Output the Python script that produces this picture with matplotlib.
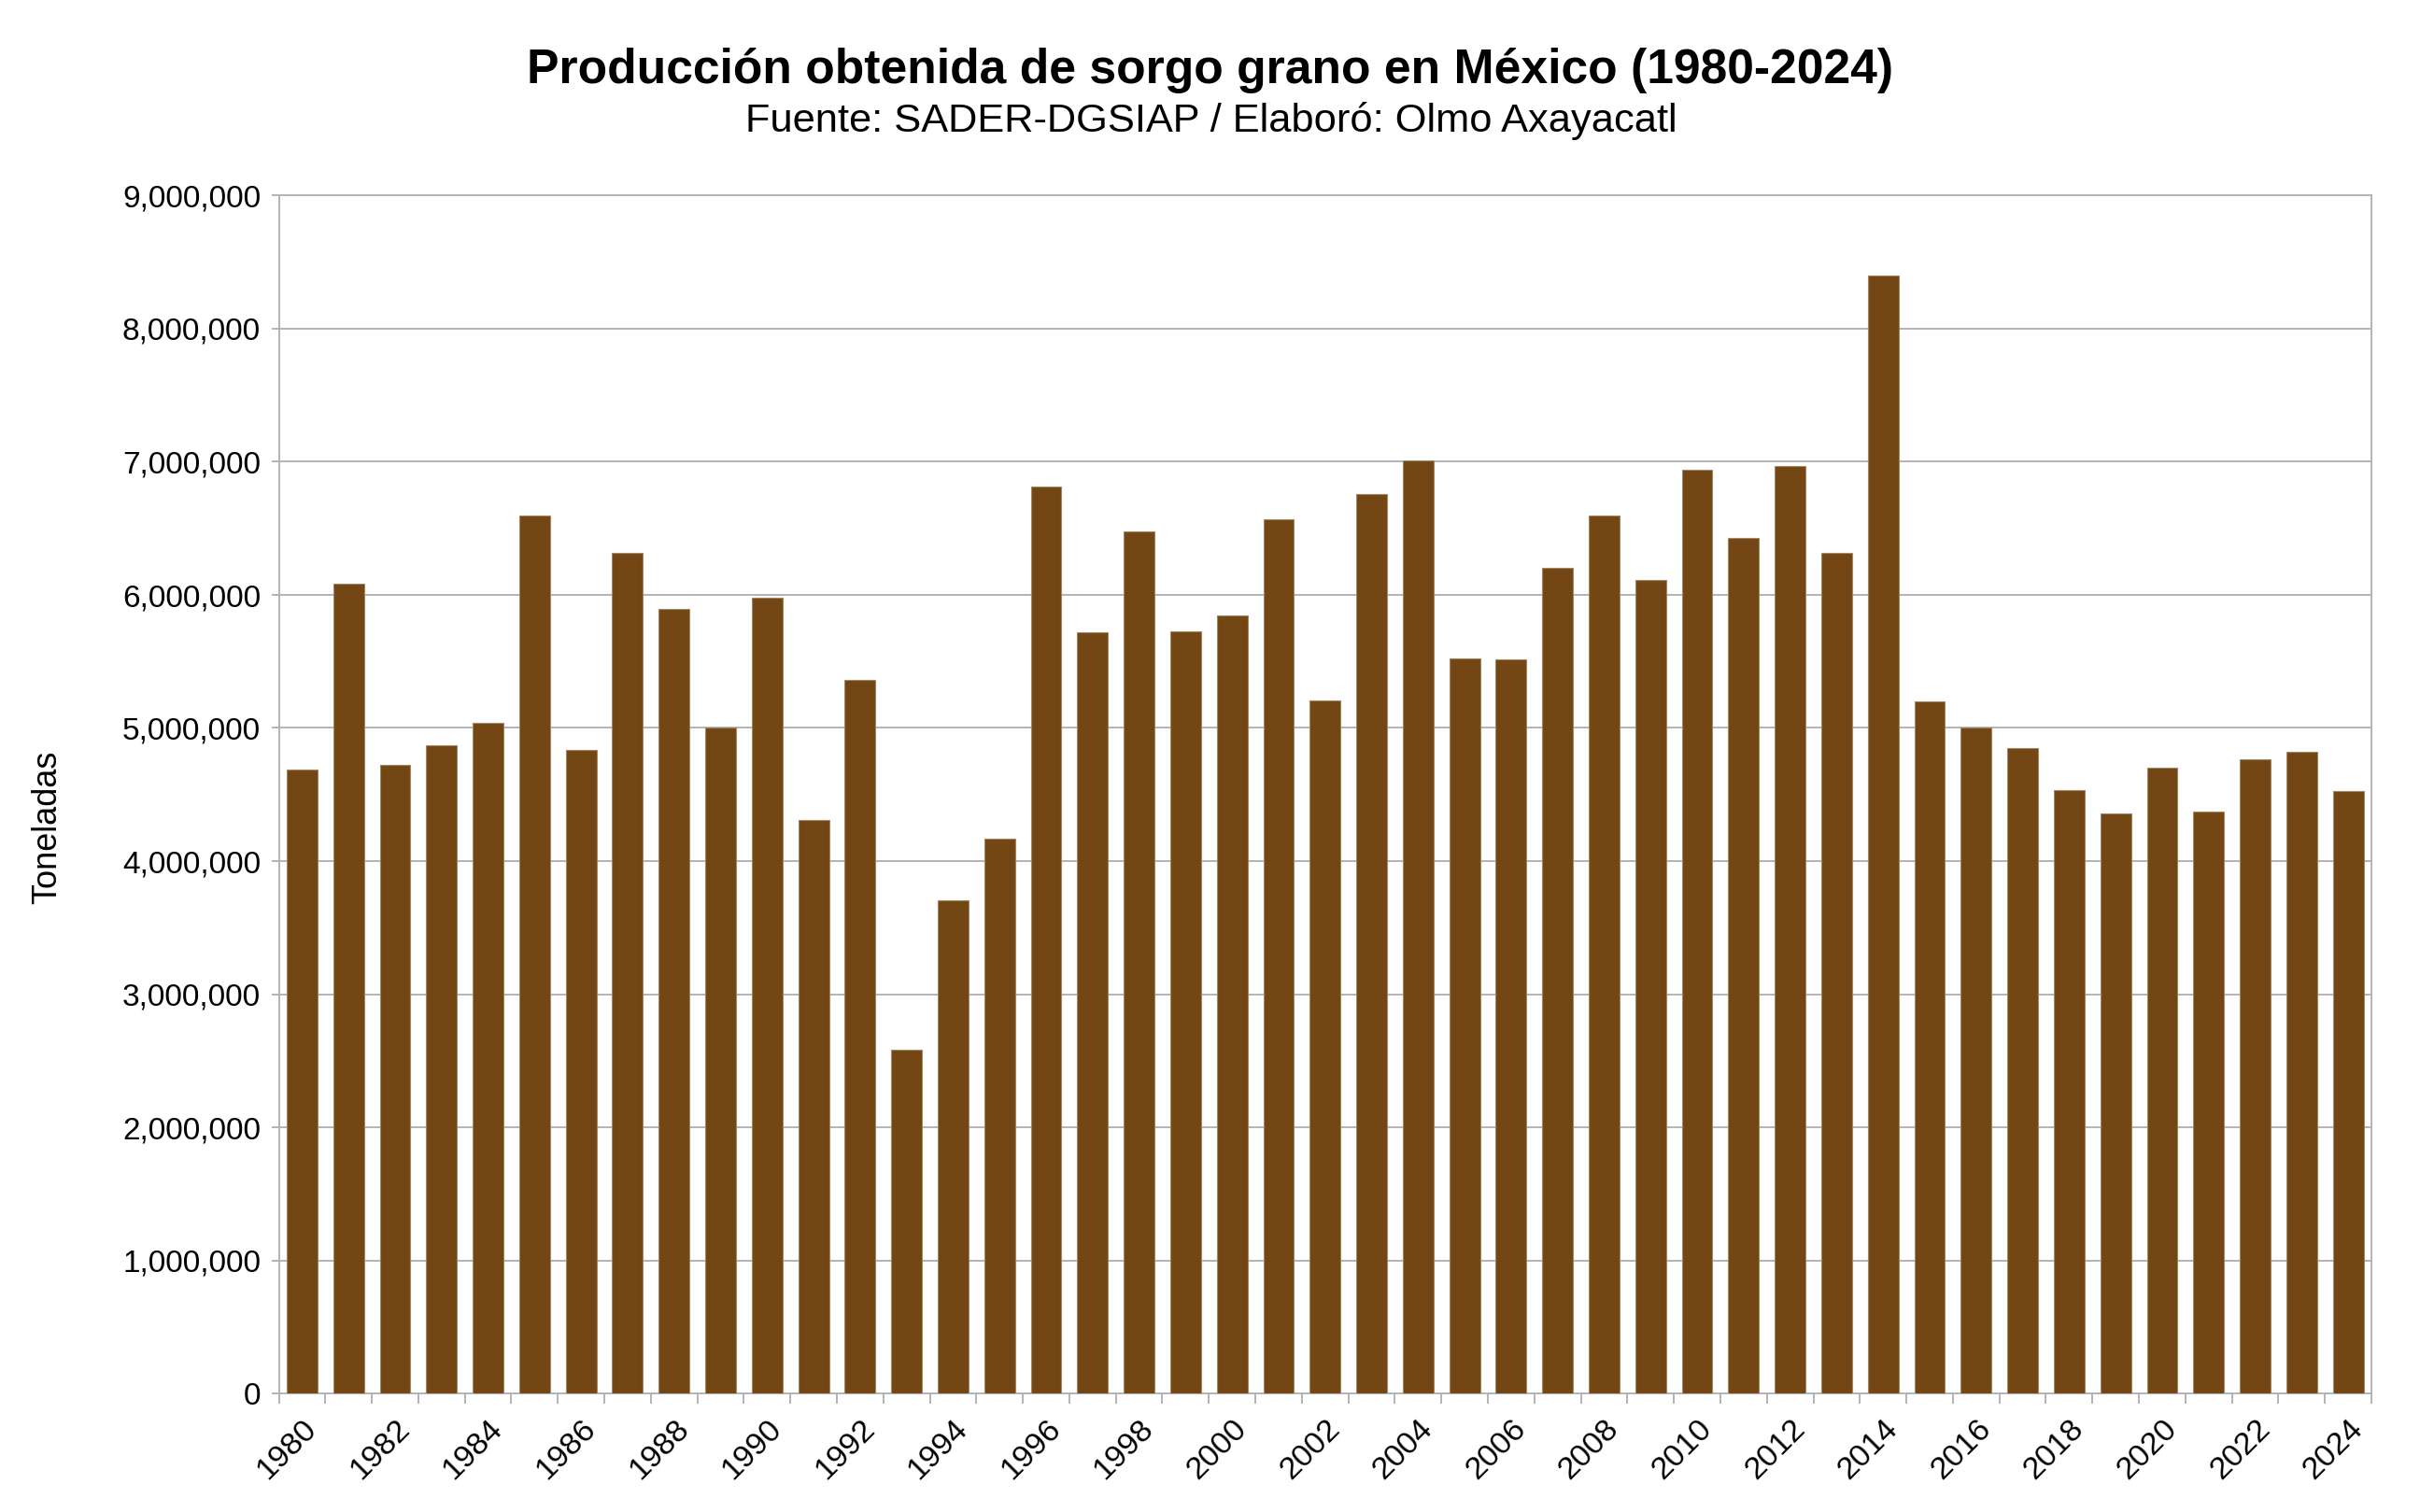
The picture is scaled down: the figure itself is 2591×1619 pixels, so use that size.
import matplotlib
matplotlib.use("Agg")
import matplotlib.pyplot as plt
from matplotlib.ticker import FuncFormatter, FixedLocator
import numpy as np

plt.rcParams['font.family'] = ['Liberation Sans', 'DejaVu Sans']

years = list(range(1980, 2025))
production = [
    4689000, 6087000, 4721000, 4870000, 5039000, 6599000, 4834000, 6317000, 5898000, 5007000,
    5978000, 4306000, 5358000, 2582000, 3702000, 4169000, 6812000, 5716000, 6478000, 5724000,
    5845000, 6571000, 5209000, 6760000, 7010000, 5523000, 5519000, 6204000, 6595000, 6111000,
    6941000, 6430000, 6969000, 6313000, 8400000, 5197000, 5007000, 4850000, 4532000, 4355000,
    4705000, 4371000, 4766000, 4822000, 4528000,
]
title = "Producción obtenida de sorgo grano en México (1980-2024)"
subtitle = "Fuente: SADER-DGSIAP / Elaboró: Olmo Axayacatl"
ylabel = "Toneladas"

W, H = 2591, 1619
fig = plt.figure(figsize=(W / 200, H / 200), dpi=200)
ax = fig.add_axes([298.5 / W, 1 - 1492 / H, (2539 - 298.5) / W, (1492 - 209.5) / H])

grey = '#b3b3b3'
x = np.arange(len(years))
ax.bar(x, production, width=0.66, color='#744614', edgecolor='#a08866', linewidth=0.4, zorder=3)

ax.set_xlim(-0.5, len(years) - 0.5)
ax.set_ylim(0, 9000000)
ax.set_yticks(np.arange(0, 9000001, 1000000))
ax.yaxis.set_major_formatter(FuncFormatter(lambda v, p: f"{int(v):,}"))
ax.grid(axis='y', color=grey, linewidth=0.7, zorder=0)

ax.xaxis.set_major_locator(FixedLocator(np.arange(-0.5, len(years), 1.0)))
ax.xaxis.set_major_formatter(FuncFormatter(lambda v, p: ""))
ax.xaxis.set_minor_locator(FixedLocator(x[::2]))
ax.set_xticklabels([str(y) for y in years[::2]], minor=True, rotation=45,
                   ha='right', va='top', rotation_mode='anchor', fontsize=12.3)
ax.tick_params(axis='x', which='major', length=4, color=grey, width=0.7)
ax.tick_params(axis='x', which='minor', length=0, pad=8)
ax.tick_params(axis='y', length=3, color=grey, width=0.7, labelsize=12, pad=4)

for s in ax.spines.values():
    s.set_color(grey)
    s.set_linewidth(0.7)

fig.text(51 / W, 1 - 886 / H, ylabel, rotation=90, ha='center', va='center', fontsize=13)
fig.text(1296 / W, 1 - 76 / H, title, ha='center', va='center',
         fontsize=18.6, fontweight='bold')
fig.text(1297 / W, 1 - 129 / H, subtitle, ha='center', va='center', fontsize=15.6)

fig.savefig('out.png', dpi=200)
